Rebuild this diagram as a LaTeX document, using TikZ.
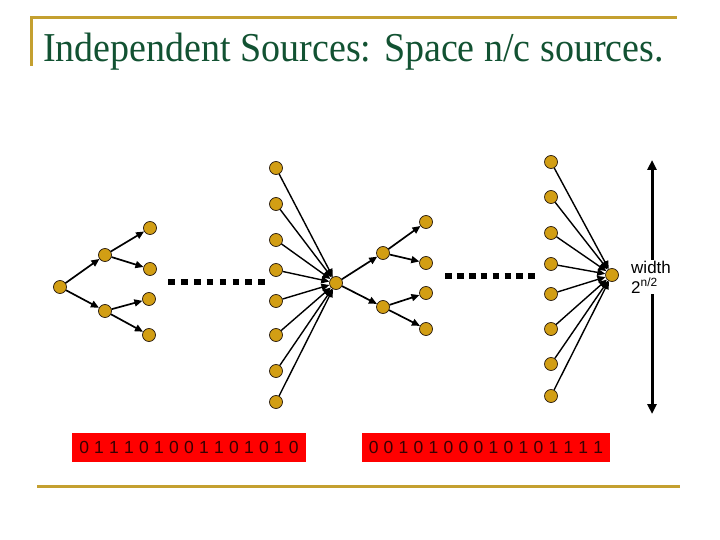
\documentclass[tikz,border=0pt]{standalone}
\usepackage{fontspec}
\setmainfont{Liberation Serif}
\newfontfamily\arialfont{Liberation Sans}
\usetikzlibrary{arrows.meta}
\definecolor{slidegold}{RGB}{196,160,48}
\definecolor{titlegreen}{RGB}{18,82,50}
\definecolor{vertexfill}{RGB}{210,158,20}
\definecolor{bitsred}{RGB}{255,0,0}
\definecolor{bitstext}{RGB}{55,0,0}
\newcommand\widebits{\spaceskip 0.3em\relax}
\tikzset{
  vertex/.style={
    circle,
    draw=black!80!brown,
    fill=vertexfill,
    line width=0.7pt,
    minimum size=13pt,
    inner sep=0pt
  },
  edge/.style={-{Triangle[length=8pt,width=7pt]}, line width=1.7pt},
  fan/.style={-{Triangle[length=8pt,width=7pt]}, line width=1.4pt},
  ellipsis/.style={line width=6.7pt, dash pattern=on 6.7pt off 6.2pt},
  bits/.style={
    fill=bitsred,
    text=bitstext,
    font=\arialfont\fontsize{17.5}{17.5}\selectfont\widebits,
    minimum height=29pt,
    inner sep=0pt
  },
  slideline/.style={draw=slidegold, line width=3pt}
}
\begin{document}
\begin{tikzpicture}[x=1pt,y=-1pt]
\useasboundingbox (0,0) rectangle (720,540);

% slide frame
\draw[slideline] (30,18) -- (677,18);
\draw[slideline] (31,18) -- (31,66);
\draw[slideline] (37,486) -- (680,486);
\node[anchor=base west, inner sep=0pt, text=titlegreen, yscale=1.08,
      font=\fontsize{38}{38}\selectfont] (title) at (43,62)
  {Independent Sources: Space n/c sources.};

% first expanding tree
\node[vertex] (r1) at (60,287) {};
\node[vertex] (a1) at (105,255) {};
\node[vertex] (b1) at (105,311) {};
\node[vertex] (l1) at (150,228) {};
\node[vertex] (l2) at (150,269) {};
\node[vertex] (l3) at (149,299) {};
\node[vertex] (l4) at (149,335) {};
\draw[edge] (r1) -- (a1);
\draw[edge] (r1) -- (b1);
\draw[edge] (a1) -- (l1);
\draw[edge] (a1) -- (l2);
\draw[edge] (b1) -- (l3);
\draw[edge] (b1) -- (l4);
\draw[ellipsis] (168,282) -- (265,282);

% first layer of width 2^{n/2}
\foreach \y [count=\i] in {168,204,240,270,301,335,371,402}
  \node[vertex] (c\i) at (276,\y) {};
\node[vertex] (m1) at (336,283) {};
\foreach \i in {1,...,8}
  \draw[fan] (c\i) -- (m1);

% second expanding tree
\node[vertex] (a2) at (383,253) {};
\node[vertex] (b2) at (383,307) {};
\node[vertex] (k1) at (426,222) {};
\node[vertex] (k2) at (426,263) {};
\node[vertex] (k3) at (426,293) {};
\node[vertex] (k4) at (426,329) {};
\draw[edge] (m1) -- (a2);
\draw[edge] (m1) -- (b2);
\draw[edge] (a2) -- (k1);
\draw[edge] (a2) -- (k2);
\draw[edge] (b2) -- (k3);
\draw[edge] (b2) -- (k4);
\draw[ellipsis, dash pattern=on 6.7pt off 5.2pt] (445,276) -- (535.5,276);

% second layer
\foreach \y [count=\i] in {162,197,233,264,294,329,364,396}
  \node[vertex] (d\i) at (551,\y) {};
\node[vertex] (m2) at (612,275) {};
\foreach \i in {1,...,8}
  \draw[fan] (d\i) -- (m2);

% width marker
\coordinate (wtop) at (652,160);
\coordinate (wbot) at (652,414);
\draw[{Triangle[length=10pt,width=9pt]}-{Triangle[length=10pt,width=9pt]}, line width=3pt]
  (wtop) -- (wbot);
\node[anchor=west, fill=white, align=left, inner sep=1pt,
      font=\arialfont\fontsize{17}{20}\selectfont] (wlabel) at (630,277)
  {width\\2\textsuperscript{n/2}};

% random bit strings
\node[bits, minimum width=234pt] (bitsA) at (189,447.5) {0 1 1 1 0 1 0 0 1 1 0 1 0 1 0};
\node[bits, minimum width=248pt] (bitsB) at (486,447.5) {0 0 1 0 1 0 0 0 1 0 1 0 1 1 1 1};
\end{tikzpicture}
\end{document}
